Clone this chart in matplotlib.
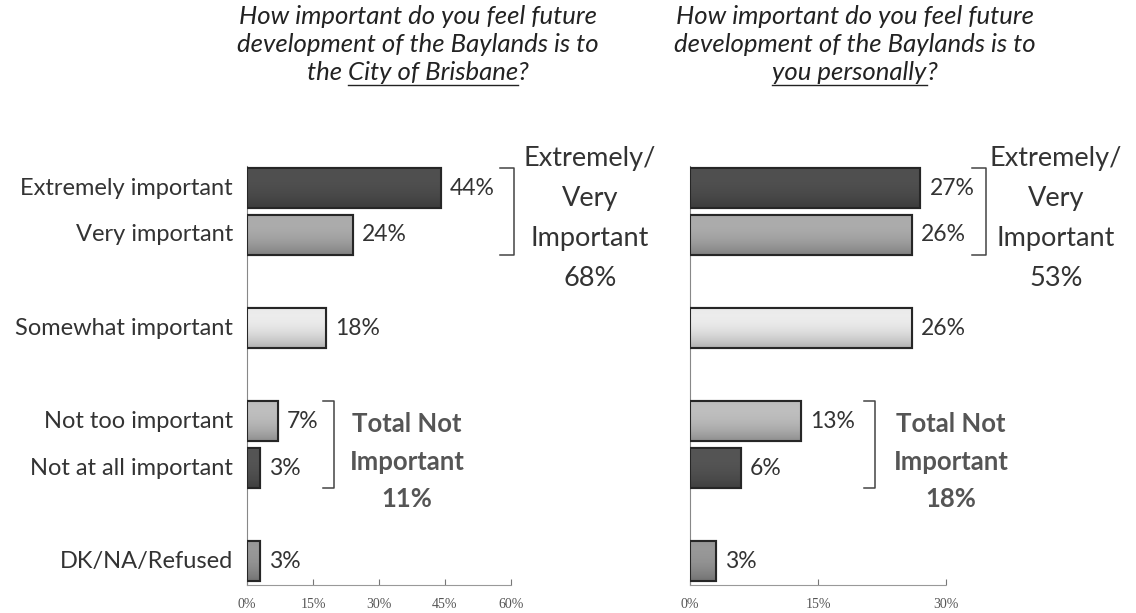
import numpy as np
import matplotlib.pyplot as plt
from matplotlib.colors import to_rgb

# Survey responses (percent)
categories = ["Extremely important", "Very important", "Somewhat important",
              "Not too important", "Not at all important", "DK/NA/Refused"]
positions = [0, 1, 3, 5, 6, 8]
city_values = [44, 24, 18, 7, 3, 3]
personal_values = [27, 26, 26, 13, 6, 3]
bar_colors = ["#4d4d4d", "#a6a6a6", "#e4e4e4", "#b8b8b8", "#525252", "#939393"]

city_ticks = [0, 15, 30, 45, 60]
personal_ticks = [0, 15, 30]

city_groups = {"top": 68, "bottom": 11}
personal_groups = {"top": 53, "bottom": 18}

W, H = 1136, 613
FONT = "Lato"
TEXT = "#333333"
BAR_H = 0.86

fig = plt.figure(figsize=(W / 100, H / 100), dpi=100)
fig.patch.set_facecolor("white")


def shade(color):
    # soft bevel: a little lighter near the top, darker towards the bottom
    base = np.array(to_rgb(color))
    t = np.linspace(-1, 1, 32)[:, None]
    k = 1 + 0.12 * (-t) - 0.10 * t ** 2
    rgb = np.clip(base[None, :] * k, 0, 1)
    return rgb[:, None, :]


def add_panel(x0, width, xmax, values, ticks):
    ax = fig.add_axes([x0 / W, 1 - 585 / H, width / W, (585 - 166) / H])
    bars = ax.barh(positions, values, height=BAR_H, color=bar_colors,
                   edgecolor="#262626", linewidth=1.5, zorder=3)
    for bar, c in zip(bars, bar_colors):
        x, y = bar.get_x(), bar.get_y()
        w, h = bar.get_width(), bar.get_height()
        im = ax.imshow(shade(c), extent=[x, x + w, y + h, y], aspect="auto",
                       interpolation="bilinear", zorder=3.5)
        im.set_clip_path(bar)
        ax.add_patch(plt.Rectangle((x, y), w, h, fill=False,
                                   edgecolor="#262626", lw=1.5, zorder=4))
    ax.set_xlim(0, xmax)
    ax.set_ylim(8.51, -0.48)
    ax.set_xticks(ticks)
    ax.set_xticklabels([f"{t}%" for t in ticks], family="Liberation Serif",
                       fontsize=10, color="#555555")
    ax.tick_params(axis="x", direction="in", length=4, color="#777777", pad=9)
    ax.set_yticks([])
    for side in ("top", "right"):
        ax.spines[side].set_visible(False)
    ax.spines["left"].set_color("#888888")
    ax.spines["bottom"].set_color("#999999")
    ax.spines["bottom"].set_linestyle((0, (2, 1)))
    for p, v in zip(positions, values):
        ax.text(v + 9 / (width / xmax), p, f"{v}%", va="center", ha="left",
                family=FONT, fontsize=16.5, color=TEXT)
    return ax


def bracket(ax, x, top_row, bottom_row, tick_len, scale):
    # bracket spans from the top edge of the first bar to the bottom of the last
    y0 = top_row - BAR_H / 2
    y1 = bottom_row + BAR_H / 2
    dx = tick_len / scale
    ax.plot([x - dx, x, x, x - dx], [y0, y0, y1, y1], color="#444444",
            lw=1.1, clip_on=False, zorder=4)


def stacked_text(ax, x, lines, ys, **kw):
    for line, y in zip(lines, ys):
        ax.text(x, y, line, ha="center", va="center", family=FONT,
                clip_on=False, **kw)


def to_row(y):
    return (y - 188.5) / 46.6


def title(cx, before, lines, under, after, size=18.5):
    # two plain lines then a line with an underlined phrase
    for line, y in zip(lines, [16, 44]):
        fig.text(cx / W, 1 - y / H, line, ha="center", va="center",
                 family=FONT, style="italic", fontsize=size, color="#222222")
    renderer = fig.canvas.get_renderer()
    parts = [before, under, after]
    widths = []
    for s in parts:
        t = fig.text(0, 0, s, family=FONT, style="italic", fontsize=size)
        widths.append(t.get_window_extent(renderer).width if s else 0)
        t.remove()
    full = fig.text(0, 0, before + under + after, family=FONT,
                    style="italic", fontsize=size)
    total = full.get_window_extent(renderer).width
    full.remove()
    gap = (total - sum(widths)) / max(1, sum(1 for s in parts if s) - 1)
    x = cx - total / 2
    y = 1 - 72 / H
    for i, s in enumerate(parts):
        if not s:
            continue
        fig.text(x / W, y, s, ha="left", va="center", family=FONT,
                 style="italic", fontsize=size, color="#222222")
        if i == 1:
            fig.add_artist(plt.Line2D([x / W, (x + widths[i]) / W],
                                      [1 - 85 / H, 1 - 85 / H],
                                      color="#222222", lw=1))
        x += widths[i] + gap


TOP_LINES = (159, 199, 239, 279)
BOTTOM_LINES = (424, 462, 499)

# City panel
ax1 = add_panel(247, 264, 60, city_values, city_ticks)
for p, label in zip(positions, categories):
    ax1.text(-14 / 4.4, p, label, ha="right", va="center", family=FONT,
             fontsize=17, color=TEXT)
bracket(ax1, (514 - 247) / 4.4, positions[0], positions[1], 14, 4.4)
stacked_text(ax1, (590 - 247) / 4.4,
             ["Extremely/", "Very", "Important", f"{city_groups['top']}%"],
             [to_row(y) for y in TOP_LINES], fontsize=19.5, color=TEXT)
bracket(ax1, (334 - 247) / 4.4, positions[3], positions[4], 11, 4.4)
stacked_text(ax1, (407 - 247) / 4.4,
             ["Total Not", "Important", f"{city_groups['bottom']}%"],
             [to_row(y) for y in BOTTOM_LINES],
             fontsize=18.5, color="#555555", weight="bold")

# Personal panel
ax2 = add_panel(690, 256, 30, personal_values, personal_ticks)
bracket(ax2, (986 - 690) / 8.53, positions[0], positions[1], 14, 8.53)
stacked_text(ax2, (1056 - 690) / 8.53,
             ["Extremely/", "Very", "Important", f"{personal_groups['top']}%"],
             [to_row(y) for y in TOP_LINES], fontsize=19.5, color=TEXT)
bracket(ax2, (875 - 690) / 8.53, positions[3], positions[4], 11, 8.53)
stacked_text(ax2, (951 - 690) / 8.53,
             ["Total Not", "Important", f"{personal_groups['bottom']}%"],
             [to_row(y) for y in BOTTOM_LINES],
             fontsize=18.5, color="#555555", weight="bold")

title(418, "the ", ["How important do you feel future",
                    "development of the Baylands is to"],
      "City of Brisbane", "?")
title(855, "", ["How important do you feel future",
                "development of the Baylands is to"],
      "you personally", "?")

fig.savefig("out.png", dpi=100)
